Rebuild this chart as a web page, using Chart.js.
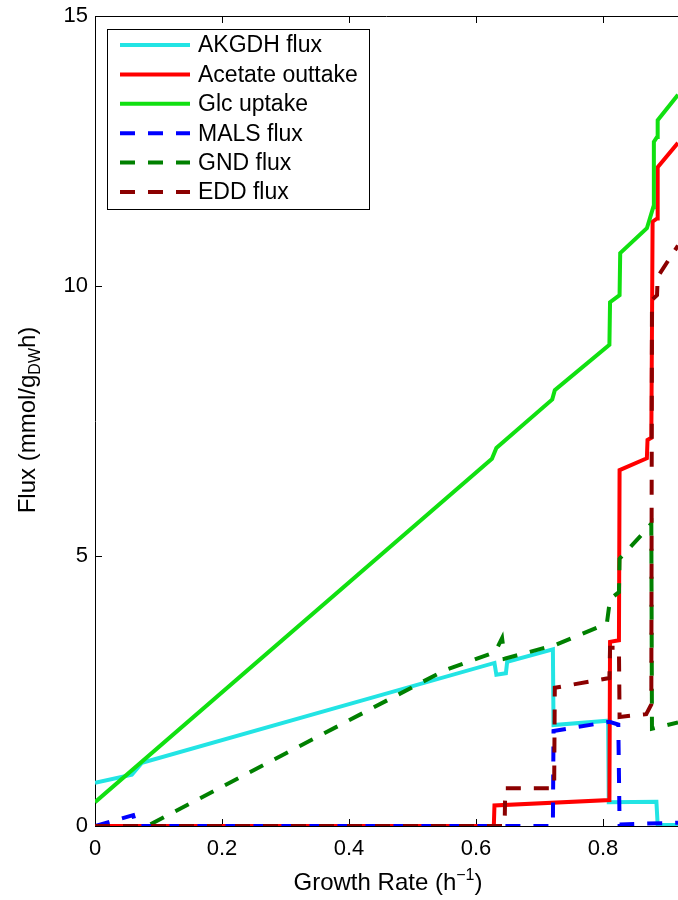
<!DOCTYPE html>
<html>
<head>
<meta charset="utf-8">
<script src="https://cdn.jsdelivr.net/npm/chart.js@4/dist/chart.umd.min.js"></script>
<style>
body{margin:0;background:#fff}
#wrap{width:678px;height:900px}
</style>
</head>
<body>
<div id="wrap"><canvas id="fluxChart" width="678" height="900"></canvas></div>
<script>
'use strict'

// growth rate (h^-1) / flux pairs
const akgdhX = [0, 0.058, 0.074, 0.629, 0.632, 0.647, 0.649, 0.721, 0.722, 0.808, 0.809, 0.884, 0.886, 0.918];
const akgdhY = [0.80, 0.95, 1.17, 3.02, 2.80, 2.83, 3.04, 3.27, 1.87, 1.95, 0.44, 0.45, 0.02, 0.02];

const acetateX = [0, 0.628, 0.629, 0.810, 0.811, 0.825, 0.826, 0.869, 0.870, 0.876, 0.878, 0.885, 0.886, 0.918];
const acetateY = [0, 0, 0.38, 0.48, 3.41, 3.44, 6.59, 6.81, 7.15, 7.19, 11.19, 11.25, 12.2, 12.65];

const glcX = [0, 0.625, 0.632, 0.720, 0.724, 0.810, 0.811, 0.826, 0.827, 0.869, 0.874, 0.879, 0.880, 0.885, 0.886, 0.918];
const glcY = [0.44, 6.80, 7.00, 7.90, 8.07, 8.91, 9.70, 9.83, 10.61, 11.07, 11.26, 11.46, 12.67, 12.76, 13.07, 13.54];

const malsX = [0, 0.060, 0.065, 0.721, 0.722, 0.810, 0.824, 0.826, 0.918];
const malsY = [0, 0.20, 0, 0, 1.76, 1.93, 1.88, 0.03, 0.06];

const gndX = [0, 0.082, 0.55, 0.63, 0.641, 0.645, 0.724, 0.806, 0.811, 0.825, 0.826, 0.869, 0.876, 0.877, 0.918];
const gndY = [0, 0, 2.88, 3.22, 3.48, 3.10, 3.35, 3.75, 4.20, 4.33, 4.95, 5.50, 5.60, 1.80, 1.92];

const eddX = [0, 0.645, 0.646, 0.723, 0.724, 0.810, 0.811, 0.825, 0.826, 0.868, 0.876, 0.877, 0.885, 0.886, 0.918];
const eddY = [0, 0, 0.70, 0.70, 2.56, 2.74, 3.30, 3.30, 2.02, 2.07, 2.25, 9.74, 9.83, 10.17, 10.75];

const seriesNames = ['AKGDH flux', 'Acetate outtake', 'Glc uptake', 'MALS flux', 'GND flux', 'EDD flux'];
const seriesColors = ['#22e4e4', '#ff0000', '#11e011', '#0000ff', '#008000', '#8b0000'];
const seriesDashed = [false, false, false, true, true, true];

const xTicks = [0, 0.2, 0.4, 0.6, 0.8];
const yTicks = [0, 5, 10, 15];

const FONT = "'Liberation Sans', Arial, sans-serif";
const DASH = [15, 13];

function zip(xs, ys){
  return xs.map(function(v, i){ return {x: v, y: ys[i]}; });
}

const allX = [akgdhX, acetateX, glcX, malsX, gndX, eddX];
const allY = [akgdhY, acetateY, glcY, malsY, gndY, eddY];

const datasets = seriesNames.map(function(name, i){
  return {
    label: name,
    data: zip(allX[i], allY[i]),
    borderColor: seriesColors[i],
    backgroundColor: seriesColors[i],
    borderWidth: 4,
    borderDash: seriesDashed[i] ? DASH : [],
    borderCapStyle: 'butt',
    borderJoinStyle: 'miter',
    pointRadius: 0,
    showLine: true,
    tension: 0,
    fill: false,
    order: seriesNames.length - i   // later series drawn on top, like matlab
  };
});

// inward ticks + top border line (matlab box look)
const boxTicks = {
  id: 'boxTicks',
  beforeDatasetsDraw(chart){
    const ctx = chart.ctx, a = chart.chartArea;
    const xs = chart.scales.x, ys = chart.scales.y;
    ctx.save();
    ctx.strokeStyle = '#000';
    ctx.lineWidth = 1;
    ctx.beginPath();
    ctx.moveTo(a.left, a.top + 0.5);
    ctx.lineTo(a.right, a.top + 0.5);
    xTicks.forEach(function(v){
      const px = Math.round(xs.getPixelForValue(v)) + 0.5;
      ctx.moveTo(px, a.bottom); ctx.lineTo(px, a.bottom - 7);
      ctx.moveTo(px, a.top); ctx.lineTo(px, a.top + 7);
    });
    yTicks.forEach(function(v){
      const py = Math.round(ys.getPixelForValue(v)) + 0.5;
      ctx.moveTo(a.left, py); ctx.lineTo(a.left + 7, py);
    });
    ctx.stroke();
    ctx.restore();
  }
};

// axis titles with sub/superscripts
const axisTitles = {
  id: 'axisTitles',
  afterDraw(chart){
    const ctx = chart.ctx;
    ctx.save();
    ctx.fillStyle = '#000';
    ctx.textBaseline = 'alphabetic';
    ctx.textAlign = 'left';

    // x title
    const big = '24px ' + FONT, small = '16px ' + FONT;
    const p1 = 'Growth Rate (h', p2 = '\u22121', p3 = ')';
    ctx.font = small;
    const w2 = ctx.measureText(p2).width;
    ctx.font = big;
    const w1 = ctx.measureText(p1).width, w3 = ctx.measureText(p3).width;
    let x0 = 388 - (w1 + w2 + w3) / 2;
    const yb = 890;
    ctx.fillText(p1, x0, yb);
    ctx.font = small;
    ctx.fillText(p2, x0 + w1, yb - 10);
    ctx.font = big;
    ctx.fillText(p3, x0 + w1 + w2, yb);

    // y title, rotated
    ctx.translate(35, 420);
    ctx.rotate(-Math.PI / 2);
    const q1 = 'Flux (mmol/g', q2 = 'DW', q3 = 'h)';
    ctx.font = big;
    const v1 = ctx.measureText(q1).width, v3 = ctx.measureText(q3).width;
    ctx.font = small;
    const v2 = ctx.measureText(q2).width;
    x0 = -(v1 + v2 + v3) / 2;
    ctx.font = big;
    ctx.fillText(q1, x0, 0);
    ctx.font = small;
    ctx.fillText(q2, x0 + v1, 5);
    ctx.font = big;
    ctx.fillText(q3, x0 + v1 + v2, 0);
    ctx.restore();
  }
};

// boxed legend in upper left
const boxLegend = {
  id: 'boxLegend',
  afterDraw(chart){
    const ctx = chart.ctx;
    ctx.save();
    ctx.fillStyle = '#fff';
    ctx.fillRect(107, 29, 262, 180);
    ctx.strokeStyle = '#000';
    ctx.lineWidth = 1;
    ctx.strokeRect(107.5, 29.5, 262, 180);
    ctx.font = '23px ' + FONT;
    ctx.textBaseline = 'middle';
    seriesNames.forEach(function(name, i){
      const yy = 45 + i * 29.4;
      ctx.strokeStyle = seriesColors[i];
      ctx.lineWidth = 4;
      ctx.setLineDash(seriesDashed[i] ? DASH : []);
      ctx.beginPath();
      ctx.moveTo(120, yy);
      ctx.lineTo(190, yy);
      ctx.stroke();
      ctx.setLineDash([]);
      ctx.fillStyle = '#000';
      ctx.fillText(name, 198, yy + 1);
    });
    ctx.restore();
  }
};

const ctx = document.getElementById('fluxChart').getContext('2d');
const fluxChart = new Chart(ctx, {
  type: 'scatter',
  data: {datasets: datasets},
  options: {
    responsive: false,
    animation: false,
    layout: {padding: {left: 0, right: 0, top: 16, bottom: 0}},
    plugins: {legend: {display: false}, tooltip: {enabled: false}},
    scales: {
      x: {
        type: 'linear',
        min: 0,
        max: 0.918,
        afterFit: function(s){ s.height = 74; s.paddingLeft = 0; s.paddingRight = 0; },
        afterBuildTicks: function(s){ s.ticks = xTicks.map(function(v){ return {value: v}; }); },
        grid: {display: false, drawTicks: false},
        border: {display: true, color: '#000', width: 1},
        ticks: {color: '#000', padding: 10, maxRotation: 0, font: {family: FONT, size: 22}}
      },
      y: {
        type: 'linear',
        min: 0,
        max: 15,
        afterFit: function(s){ s.width = 95; s.paddingTop = 0; s.paddingBottom = 0; },
        afterBuildTicks: function(s){ s.ticks = yTicks.map(function(v){ return {value: v}; }); },
        grid: {display: false, drawTicks: false},
        border: {display: true, color: '#000', width: 1},
        ticks: {color: '#000', padding: 7, font: {family: FONT, size: 22}}
      }
    }
  },
  plugins: [boxTicks, axisTitles, boxLegend]
});
</script>
</body>
</html>
